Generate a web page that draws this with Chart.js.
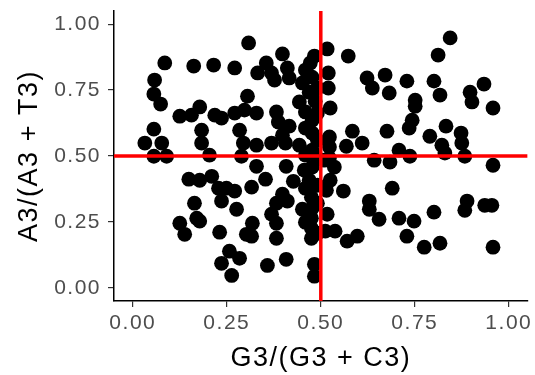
<!DOCTYPE html>
<html><head><meta charset="utf-8">
<script src="https://cdn.jsdelivr.net/npm/chart.js@4.4.1/dist/chart.umd.min.js"></script>
<style>html,body{margin:0;padding:0;background:#fff}</style>
</head><body>
<canvas id="c" width="535" height="375" style="width:535px;height:375px;display:block"></canvas>
<script>
const xTitle = 'G3/(G3 + C3)';
const yTitle = 'A3/(A3 + T3)';
const tickValues = [0, 0.25, 0.5, 0.75, 1];
const tickLabels = ['0.00', '0.25', '0.50', '0.75', '1.00'];
const axisMin = -0.05, axisMax = 1.05;
const refX = 0.5, refY = 0.5;

const gcRatio = [
0.085,0.162,0.215,0.271,0.308,0.058,0.056,0.074,0.178,0.305,
0.398,0.517,0.483,0.573,0.472,0.355,0.332,0.369,0.411,0.416,
0.377,0.451,0.477,0.520,0.469,0.520,0.443,0.485,0.623,0.671,
0.637,0.682,0.844,0.812,0.729,0.801,0.751,0.817,0.897,0.934,
0.902,
0.125,0.156,0.218,0.236,0.271,0.297,0.056,0.032,0.077,0.056,
0.090,0.183,0.183,0.204,0.284,0.294,0.289,0.149,0.178,0.210,
0.228,0.249,0.271,0.164,0.236,0.316,
0.329,0.329,0.329,0.353,0.382,0.525,0.387,0.416,0.398,0.477,
0.477,0.523,0.568,0.369,0.406,0.443,0.477,0.523,0.408,0.477,
0.536,0.427,0.469,0.525,0.398,0.560,0.515,0.475,0.411,0.584,
0.610,0.642,0.684,0.629,
0.751,0.743,0.735,0.676,0.833,0.790,0.822,0.830,0.873,0.875,
0.883,0.708,0.737,0.958,0.958,0.690,0.889,0.936,0.955,
0.276,0.125,0.170,0.178,0.138,0.231,0.302,0.257,0.284,0.236,0.263,
0.318,0.316,0.369,0.382,0.382,0.382,0.451,0.477,0.475,0.475,
0.475,0.517,0.512,0.538,0.570,0.597,0.358,0.408,0.483,0.483,
0.629,0.655,0.708,0.748,0.729,0.775,0.817,0.801,0.883,0.958,
0.459,0.491,0.459,0.491,0.459,0.491,0.459,0.491,0.456,0.491,0.459,0.491,0.459,0.491,0.509,0.523
];
const atRatio = [
0.853,0.841,0.845,0.834,0.929,0.788,0.735,0.697,0.686,0.727,
0.887,0.906,0.879,0.879,0.853,0.853,0.815,0.815,0.834,0.796,
0.788,0.777,0.799,0.815,0.742,0.758,0.705,0.708,0.796,0.807,
0.758,0.739,0.948,0.883,0.784,0.784,0.712,0.731,0.742,0.773,
0.705,
0.651,0.655,0.655,0.644,0.663,0.674,0.602,0.549,0.549,0.499,
0.499,0.598,0.549,0.503,0.598,0.549,0.499,0.412,0.408,0.423,
0.378,0.378,0.367,0.321,0.329,0.382,
0.663,0.541,0.461,0.412,0.667,0.682,0.629,0.613,0.579,0.636,
0.587,0.572,0.537,0.549,0.549,0.541,0.522,0.534,0.461,0.458,
0.458,0.404,0.408,0.408,0.355,0.367,0.370,0.344,0.329,0.594,
0.549,0.484,0.477,0.329,
0.689,0.636,0.606,0.594,0.613,0.575,0.541,0.511,0.587,0.549,
0.499,0.522,0.499,0.465,0.682,0.378,0.329,0.313,0.313,
0.298,0.245,0.264,0.253,0.203,0.211,0.203,0.139,0.112,0.093,0.047,
0.245,0.196,0.279,0.245,0.188,0.321,0.298,0.302,0.264,0.226,
0.188,0.279,0.215,0.215,0.177,0.196,0.085,0.108,0.089,0.044,
0.298,0.260,0.264,0.253,0.196,0.154,0.169,0.287,0.294,0.154,
0.826,0.758,0.667,0.663,0.606,0.560,0.503,0.492,0.446,0.389,0.378,0.321,0.249,0.207,0.484,0.492
];

const n = Math.min(gcRatio.length, atRatio.length);
const pts = [];
for (let i = 0; i < n; i++) pts.push({x: gcRatio[i], y: atRatio[i]});

const spacing = {
  id: 'spacing',
  beforeDraw(chart) { chart.ctx.letterSpacing = '1.5px'; }
};

const tickFont = {family: "'Liberation Sans', Arial, sans-serif", size: 21};
const titleFont = {family: "'Liberation Sans', Arial, sans-serif", size: 27};

new Chart(document.getElementById('c'), {
  type: 'scatter',
  data: {
    datasets: [
      {
        label: 'v', type: 'line', order: 0,
        data: [{x: refX, y: axisMin}, {x: refX, y: axisMax}],
        borderColor: '#ff0000', borderWidth: 3.5, pointRadius: 0, fill: false
      },
      {
        label: 'h', type: 'line', order: 0,
        data: [{x: axisMin, y: refY}, {x: axisMax, y: refY}],
        borderColor: '#ff0000', borderWidth: 3.5, pointRadius: 0, fill: false
      },
      {
        label: 'points', order: 1,
        data: pts,
        backgroundColor: '#000000', borderColor: '#000000',
        pointRadius: 7.4, pointHoverRadius: 7.4, borderWidth: 0
      }
    ]
  },
  options: {
    responsive: false,
    animation: false,
    devicePixelRatio: 1,
    layout: {padding: {top: 11, right: 6, left: 0, bottom: 0}},
    plugins: {legend: {display: false}, tooltip: {enabled: false}},
    scales: {
      x: {
        type: 'linear', min: axisMin, max: axisMax,
        afterFit(s) { s.height = 74; s.paddingLeft = 0; s.paddingRight = 0; },
        afterBuildTicks(s) { s.ticks = tickValues.map(v => ({value: v})); },
        ticks: {
          callback: (v) => tickLabels[tickValues.indexOf(v)] ?? '',
          color: '#4d4d4d', font: tickFont, padding: 4, maxRotation: 0, autoSkip: false
        },
        grid: {display: true, drawOnChartArea: false, drawTicks: true, tickLength: 6, color: '#333333', lineWidth: 1.2},
        border: {display: true, color: '#000000', width: 1.5},
        title: {display: true, text: xTitle, color: '#000000', font: titleFont, padding: {top: 0, bottom: 0}}
      },
      y: {
        type: 'linear', min: axisMin, max: axisMax,
        afterFit(s) { s.width = 114; s.paddingTop = 0; s.paddingBottom = 0; },
        afterBuildTicks(s) { s.ticks = tickValues.map(v => ({value: v})); },
        ticks: {
          callback: (v) => tickLabels[tickValues.indexOf(v)] ?? '',
          color: '#4d4d4d', font: tickFont, padding: 7, autoSkip: false
        },
        grid: {display: true, drawOnChartArea: false, drawTicks: true, tickLength: 6, color: '#333333', lineWidth: 1.2},
        border: {display: true, color: '#000000', width: 1.5},
        title: {display: true, text: yTitle, color: '#000000', font: titleFont, padding: {top: 13, bottom: 0}}
      }
    }
  },
  plugins: [spacing]
});
</script>
</body></html>
